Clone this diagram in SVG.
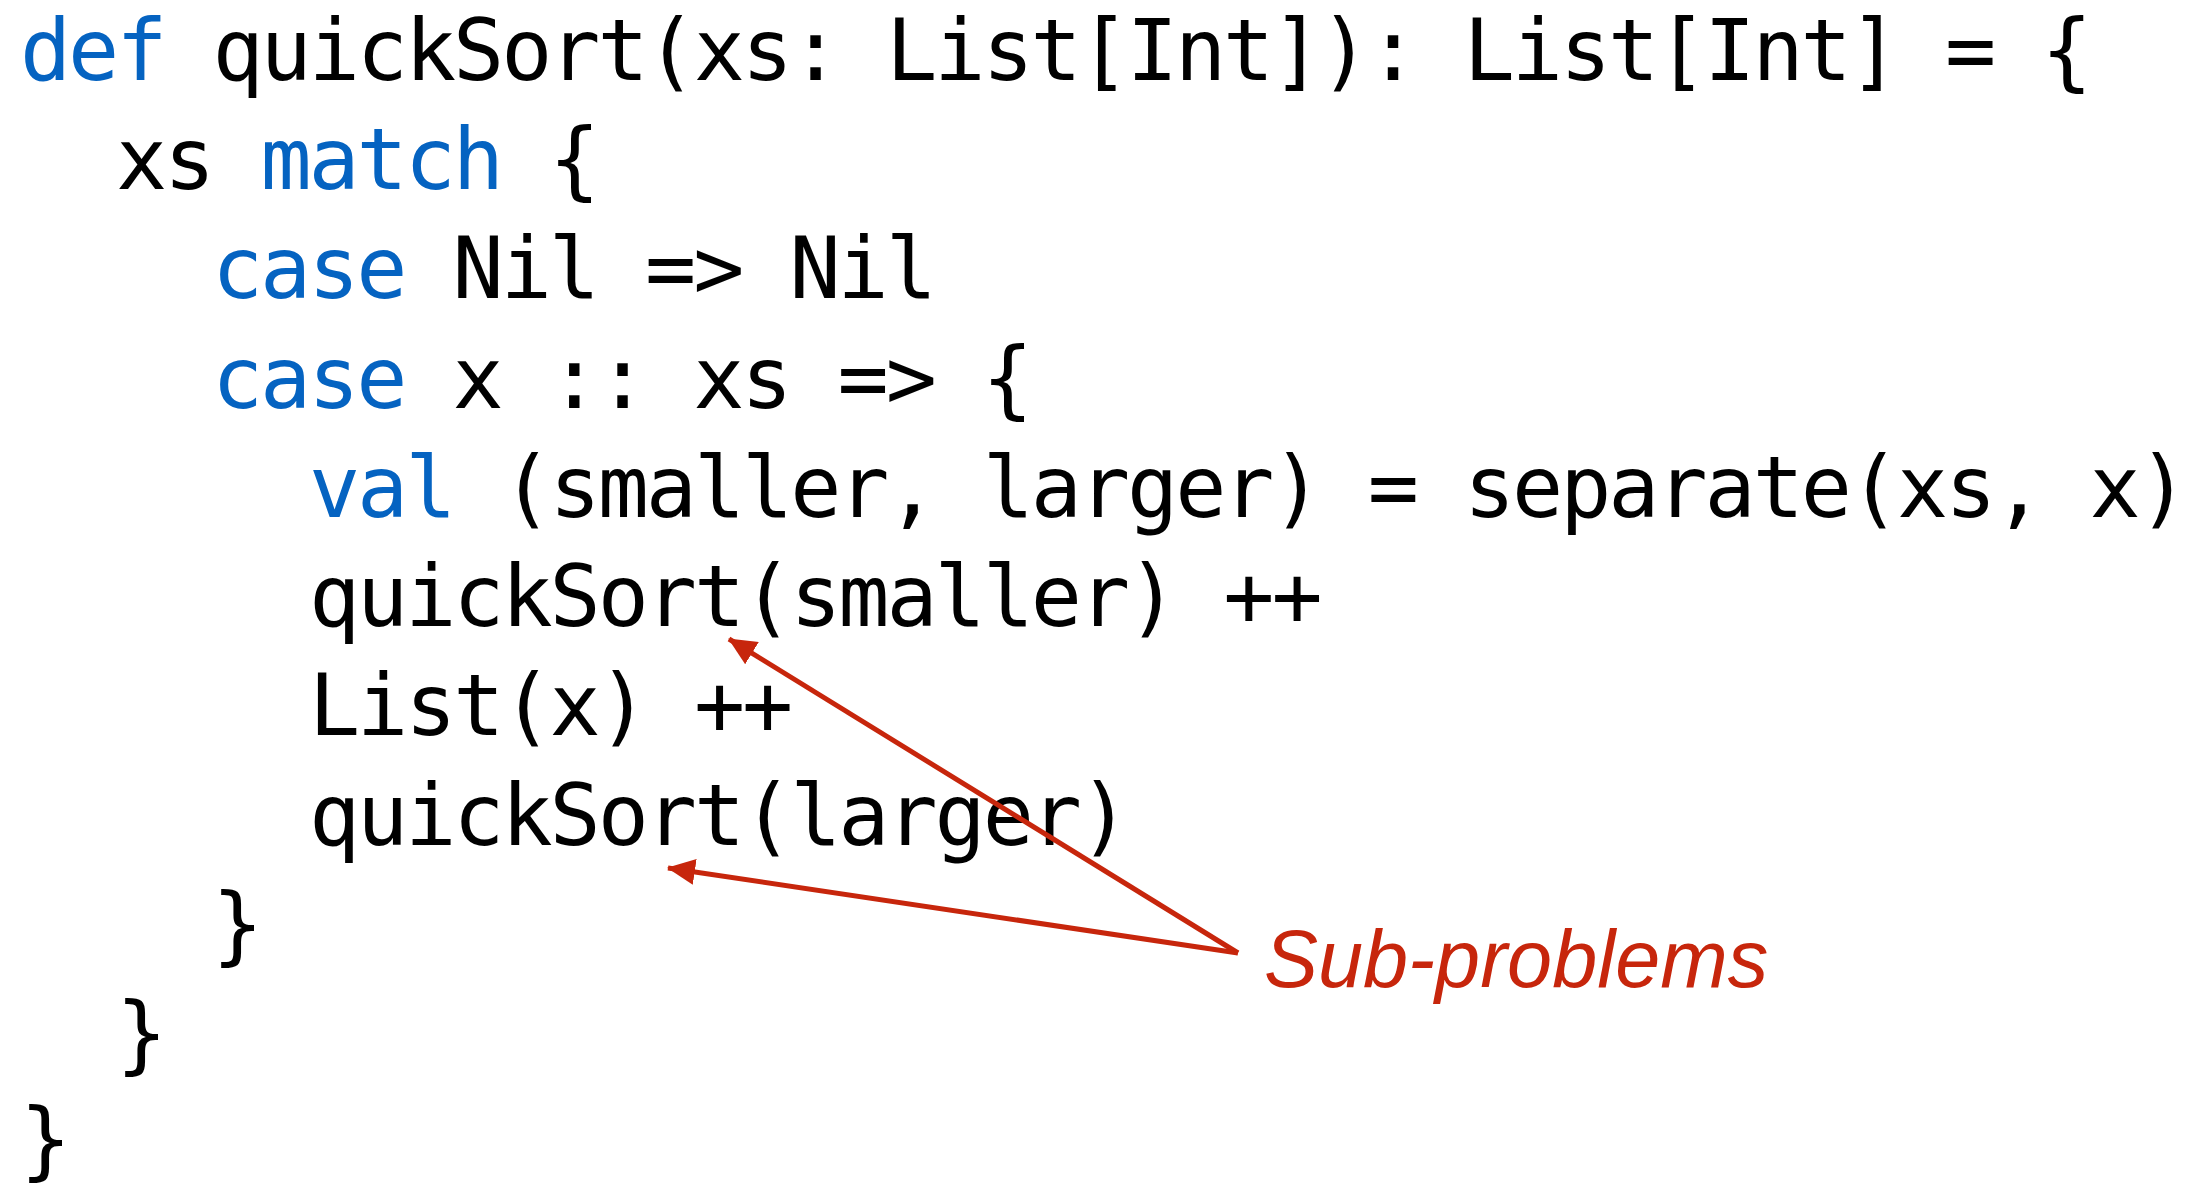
<svg xmlns="http://www.w3.org/2000/svg" width="2203" height="1186" viewBox="0 0 2203 1186">
  <style>
    .code { font-family: "DejaVu Sans Mono", "Liberation Mono", monospace; font-size: 85px; letter-spacing: -3.05px; fill: #000000; }
    .kw { fill: #0563C1; }
    .note { font-family: "Liberation Sans", Arial, sans-serif; font-style: italic; font-size: 81px; fill: #C7260C; }
    .arrow { stroke: #C7260C; stroke-width: 5; fill: none; }
  </style>
  <defs>
    <marker id="head" markerUnits="userSpaceOnUse" markerWidth="30" markerHeight="26" refX="27" refY="13" orient="auto">
      <path d="M0,0 L28,13 L0,26 Z" fill="#C7260C"/>
    </marker>
  </defs>
  <rect width="2203" height="1186" fill="#ffffff"/>

  <!-- Scala source listing -->
  <g id="code">
    <text class="code" x="20" y="80"><tspan class="kw">def</tspan> quickSort(xs: List[Int]): List[Int] = {</text>
    <text class="code" x="116" y="189">xs <tspan class="kw">match</tspan> {</text>
    <text class="code" x="212" y="298"><tspan class="kw">case</tspan> Nil =&gt; Nil</text>
    <text class="code" x="212" y="408"><tspan class="kw">case</tspan> x :: xs =&gt; {</text>
    <text class="code" x="309" y="517"><tspan class="kw">val</tspan> (smaller, larger) = separate(xs, x)</text>
    <text class="code" x="309" y="626">quickSort(smaller) ++</text>
    <text class="code" x="309" y="735">List(x) ++</text>
    <text class="code" x="309" y="845">quickSort(larger)</text>
    <text class="code" x="212" y="954">}</text>
    <text class="code" x="116" y="1063">}</text>
    <text class="code" x="20" y="1169">}</text>
  </g>

  <!-- annotation label -->
  <g id="label">
    <text class="note" x="1264" y="987">Sub-problems</text>
  </g>

  <!-- pointers from the label to the recursive calls -->
  <g id="connectors">
    <line class="arrow" x1="1238" y1="953" x2="729" y2="639" marker-end="url(#head)"/>
    <line class="arrow" x1="1238" y1="953" x2="668" y2="868" marker-end="url(#head)"/>
  </g>
</svg>
